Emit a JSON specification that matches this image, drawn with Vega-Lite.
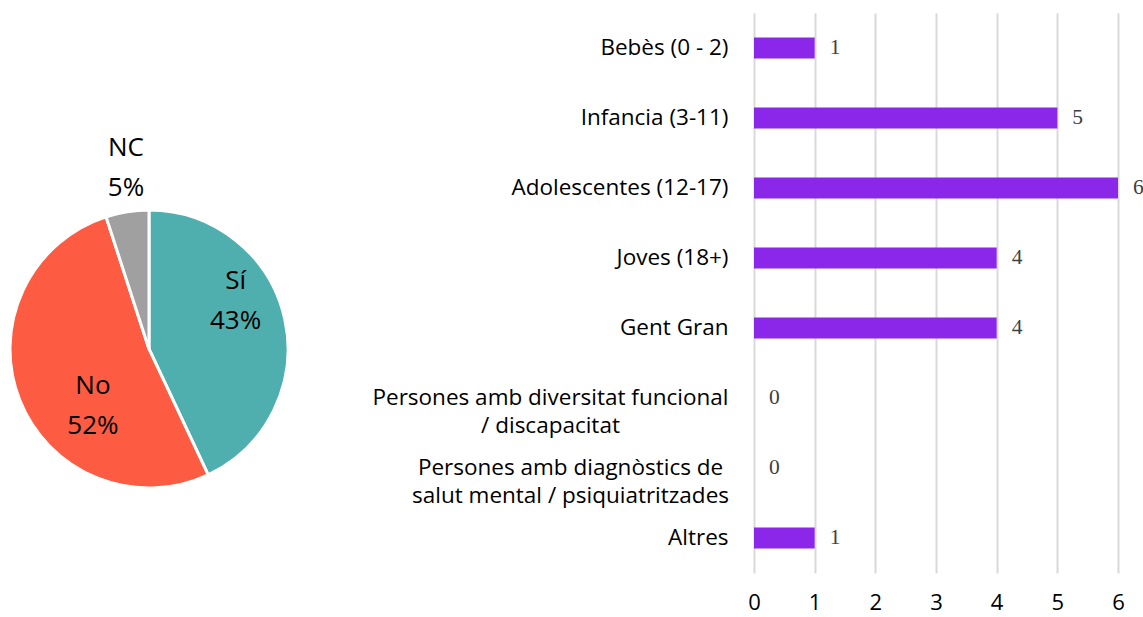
{
  "$schema": "https://vega.github.io/schema/vega-lite/v6.json",
  "padding": {"top": 13, "left": 0, "right": 0, "bottom": 0},
  "background": "white",
  "config": {"view": {"stroke": null}},
  "bounds": "full",
  "spacing": 73,
  "hconcat": [
    {
      "bounds": "flush",
      "spacing": 0,
      "vconcat": [
        {
          "width": 298,
          "height": 186,
          "data": {"values": []},
          "mark": "point"
        },
        {
          "width": 298,
          "height": 300,
          "data": {
            "values": [
              {"cat": "Sí", "pct": 43, "ord": 1, "lab": "Sí\n43%"},
              {"cat": "No", "pct": 52, "ord": 2, "lab": "No\n52%"},
              {"cat": "NC", "pct": 5, "ord": 3, "lab": "NC\n5%"}
            ]
          },
          "encoding": {
            "theta": {"field": "pct", "type": "quantitative", "stack": true},
            "order": {"field": "ord", "type": "quantitative", "sort": "ascending"},
            "detail": {"field": "cat", "type": "nominal"}
          },
          "layer": [
            {
              "mark": {"type": "arc", "radius": 139, "stroke": "white", "strokeWidth": 3},
              "encoding": {
                "color": {
                  "field": "cat",
                  "type": "nominal",
                  "scale": {"domain": ["Sí", "No", "NC"], "range": ["#4fafaf", "#fd5b42", "#a0a0a0"]},
                  "legend": null
                }
              }
            },
            {
              "mark": {
                "type": "text",
                "font": "Open Sans",
                "fontSize": 26,
                "lineBreak": "\n",
                "lineHeight": 40,
                "color": "#000000",
                "baseline": "middle",
                "align": "center",
                "dy": -20,
                "radius": {"expr": "datum.cat === 'Sí' ? 99 : datum.cat === 'No' ? 80 : 182"},
                "thetaOffset": {"expr": "datum.cat === 'Sí' ? -0.286 : datum.cat === 'No' ? -0.417 : 0.03"}
              },
              "encoding": {
                "text": {"field": "lab", "type": "nominal"}
              }
            }
          ]
        }
      ]
    },
    {
      "width": 364,
      "height": 560,
      "data": {
        "values": [
          {"grup": "Bebès (0 - 2)", "n": 1},
          {"grup": "Infancia (3-11)", "n": 5},
          {"grup": "Adolescentes (12-17)", "n": 6},
          {"grup": "Joves (18+)", "n": 4},
          {"grup": "Gent Gran", "n": 4},
          {"grup": "Persones amb diversitat funcional / discapacitat", "n": 0},
          {"grup": "Persones amb diagnòstics de salut mental / psiquiatritzades", "n": 0},
          {"grup": "Altres", "n": 1}
        ]
      },
      "encoding": {
        "y": {
          "field": "grup",
          "type": "nominal",
          "sort": null,
          "scale": {"paddingInner": 0.7, "paddingOuter": 0.35},
          "axis": {
            "title": null,
            "domain": false,
            "ticks": false,
            "grid": false,
            "labelPadding": 26,
            "labelFont": "Open Sans",
            "labelFontSize": 22.5,
            "labelColor": "#000000",
            "labelLimit": 0,
            "labelLineHeight": 28,
            "labelExpr": "datum.label === 'Persones amb diversitat funcional / discapacitat' ? ['Persones amb diversitat funcional', '/ discapacitat'] : datum.label === 'Persones amb diagnòstics de salut mental / psiquiatritzades' ? ['Persones amb diagnòstics de', 'salut mental / psiquiatritzades'] : datum.label",
            "encoding": {
              "labels": {
                "align": {
                  "condition": {"test": "indexof(datum.value, 'Persones') === 0", "value": "center"},
                  "value": "right"
                },
                "dx": {
                  "condition": [
                    {"test": "datum.value === 'Persones amb diversitat funcional / discapacitat'", "value": -178},
                    {"test": "datum.value === 'Persones amb diagnòstics de salut mental / psiquiatritzades'", "value": -158}
                  ],
                  "value": 0
                }
              }
            }
          }
        },
        "x": {
          "field": "n",
          "type": "quantitative",
          "scale": {"domain": [0, 6], "nice": false},
          "axis": {
            "title": null,
            "domain": false,
            "ticks": false,
            "grid": true,
            "gridColor": "#d9d9d9",
            "gridWidth": 2,
            "values": [0, 1, 2, 3, 4, 5, 6],
            "labelFlush": false,
            "labelPadding": 19,
            "labelFont": "Open Sans",
            "labelFontSize": 22,
            "labelColor": "#000000"
          }
        }
      },
      "layer": [
        {"mark": {"type": "bar", "color": "#8a27e8"}},
        {
          "mark": {
            "type": "text",
            "align": "left",
            "baseline": "middle",
            "dx": 15,
            "font": "Liberation Serif",
            "fontSize": 21.5,
            "color": "#404040"
          },
          "encoding": {"text": {"field": "n", "type": "quantitative"}}
        }
      ]
    }
  ]
}
